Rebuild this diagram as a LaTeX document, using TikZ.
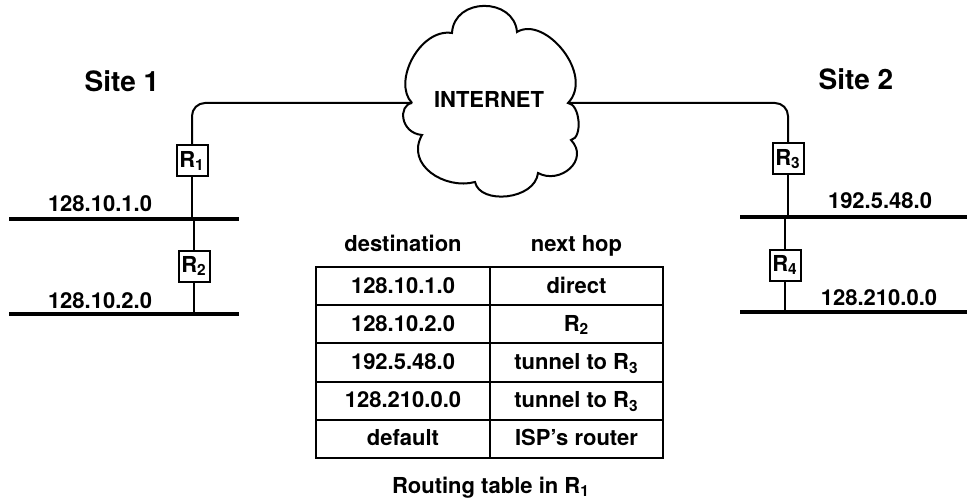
\documentclass[tikz,border=0pt]{standalone}
\usepackage{fontspec}
\setmainfont{TeX Gyre Heros}
\usepackage{tikz}
\usetikzlibrary{positioning,calc}

\newcommand\Rn[1]{R\textsubscript{#1}}

\begin{document}
\begin{tikzpicture}[
    x=0.5pt, y=-0.5pt,
    wire/.style={line width=1pt},
    lan/.style={line width=1.8pt},
    router/.style={draw, line width=1pt, minimum size=15.5pt, inner sep=0pt, font=\fontsize{11}{12}\bfseries\selectfont},
    site/.style={inner sep=0pt, anchor=base, font=\fontsize{14}{16}\bfseries\selectfont},
    lbl/.style={inner sep=0pt, anchor=base, font=\fontsize{11}{12}\bfseries\selectfont},
    cell/.style={draw, line width=1pt, minimum width=87pt, minimum height=19.1pt, inner sep=0pt, text height=1.55ex, text depth=0.2ex, font=\fontsize{11}{12}\bfseries\selectfont}
]
\useasboundingbox (0,0) rectangle (967,497);

% internet cloud
\coordinate (cl) at (412,103);
\coordinate (cr) at (568,103);
\draw[wire] (cl) .. controls (392,82) and (420,28) .. (452,33)
    .. controls (454,-3) and (514,-3) .. (517,32)
    .. controls (545,15) and (595,75) .. (cr)
    .. controls (580,104) and (583,138) .. (571,140)
    .. controls (590,160) and (560,185) .. (538,173)
    .. controls (535,200) and (480,205) .. (475,182)
    .. controls (445,190) and (405,165) .. (422,135)
    .. controls (400,133) and (398,105) .. (cl);
\node[lbl] (inet) at (489,108) {INTERNET};

% site 1
\node[site] (s1) at (122,92) {Site 1};
\coordinate (lan1w) at (9,219);
\coordinate (lan1e) at (239,219);
\coordinate (lan2w) at (9,314);
\coordinate (lan2e) at (239,314);
\draw[lan] (lan1w) -- (lan1e);
\draw[lan] (lan2w) -- (lan2e);
\node[lbl] (n1) at (100,212) {128.10.1.0};
\node[lbl] (n2) at (100,308) {128.10.2.0};
\node[router] (r1) at (192,161) {\Rn{1}};
\node[router] (r2) at (194,266) {\Rn{2}};
\draw[wire, rounded corners=6.5pt] (r1.north) |- (cl);
\draw[wire] (r1.south) -- (r1.south |- lan1w);
\draw[wire] (r2.north) -- (r2.north |- lan1w);
\draw[wire] (r2.south) -- (r2.south |- lan2w);

% site 2
\node[site] (s2) at (856,90) {Site 2};
\coordinate (lan3w) at (740,217);
\coordinate (lan3e) at (967,217);
\coordinate (lan4w) at (740,312);
\coordinate (lan4e) at (967,312);
\draw[lan] (lan3w) -- (lan3e);
\draw[lan] (lan4w) -- (lan4e);
\node[lbl] (n3) at (880,208) {192.5.48.0};
\node[lbl] (n4) at (879,305) {128.210.0.0};
\node[router] (r3) at (788,159) {\Rn{3}};
\node[router] (r4) at (785,265) {\Rn{4}};
\draw[wire, rounded corners=6.5pt] (cr) -| (r3.north);
\draw[wire] (r3.south) -- (r3.south |- lan3w);
\draw[wire] (r4.north) -- (r4.north |- lan3w);
\draw[wire] (r4.south) -- (r4.south |- lan4w);

% routing table
\foreach \dst/\hop [count=\i] in {128.10.1.0/direct, 128.10.2.0/\Rn{2}, 192.5.48.0/tunnel to \Rn{3}, 128.210.0.0/tunnel to \Rn{3}, default/ISP's router} {
    \node[cell] (d\i) at (403,{267+38.2*(\i-0.5)}) {\dst};
    \node[cell, minimum width=86.5pt] (h\i) at (576.5,{267+38.2*(\i-0.5)}) {\hop};
}
\node[lbl, above=7.5pt of d1, anchor=base] (hd) {destination};
\node[lbl, above=7.5pt of h1, anchor=base] (hh) {next hop};
\node[lbl, below=17pt of d5.south east, anchor=base] (cap) {Routing table in \Rn{1}};
\end{tikzpicture}
\end{document}
